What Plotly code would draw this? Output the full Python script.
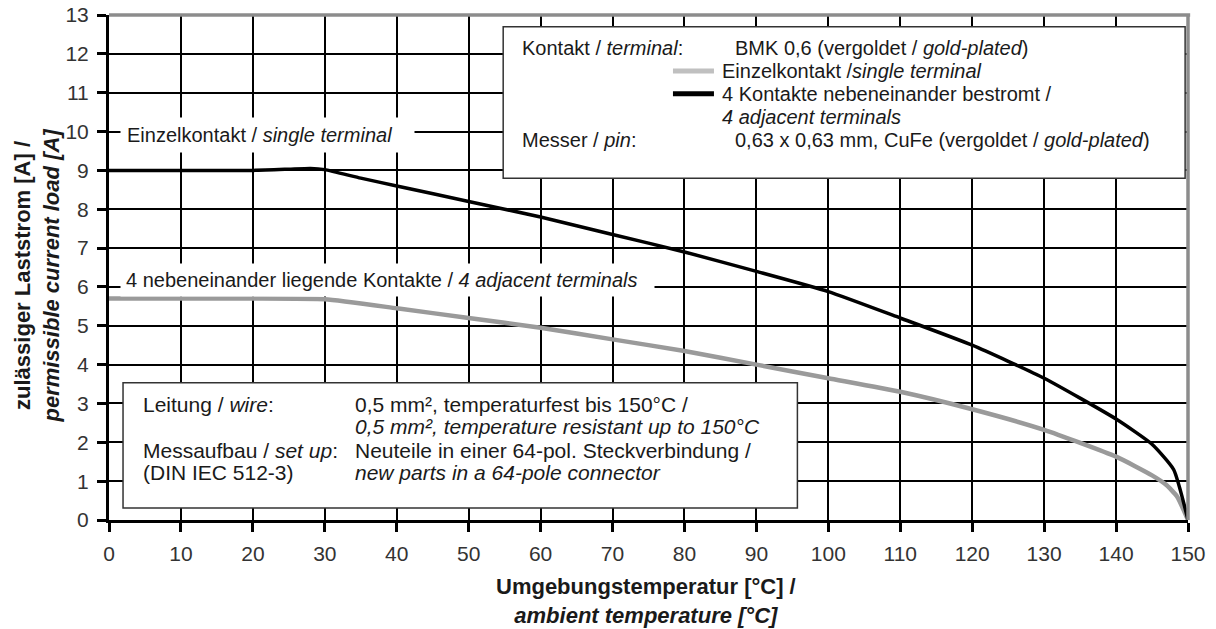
import plotly.graph_objects as go

# ---- data ----
temp_black = [0, 10, 20, 25, 28, 30, 35, 40, 50, 60, 70, 80, 90, 100, 110, 120, 130, 140, 145, 148, 150]
current_black = [9.0, 9.0, 9.0, 9.03, 9.05, 9.02, 8.8, 8.6, 8.2, 7.8, 7.35, 6.9, 6.4, 5.88, 5.2, 4.5, 3.65, 2.6, 1.95, 1.3, 0.0]

temp_gray = [0, 10, 20, 30, 40, 50, 60, 70, 80, 90, 100, 110, 120, 130, 140, 145, 147, 148.5, 150]
current_gray = [5.7, 5.7, 5.7, 5.68, 5.45, 5.2, 4.95, 4.65, 4.35, 4.0, 3.65, 3.3, 2.85, 2.32, 1.63, 1.15, 0.9, 0.6, 0.0]

x_ticks = list(range(0, 151, 10))
y_ticks = list(range(0, 14))

FONT = "Liberation Sans, Arial, sans-serif"
TXT = "#1a1a1a"

fig = go.Figure()
fig.add_trace(go.Scatter(x=temp_gray, y=current_gray, mode="lines",
                         line=dict(color="#9a9a9a", width=4.5, shape="spline", smoothing=0.5),
                         showlegend=False, hoverinfo="skip"))
fig.add_trace(go.Scatter(x=temp_black, y=current_black, mode="lines",
                         line=dict(color="#000000", width=3.5, shape="spline", smoothing=0.5),
                         showlegend=False, hoverinfo="skip"))

fig.update_xaxes(range=[0, 150], tickvals=x_ticks, showgrid=True, gridcolor="#000", gridwidth=1.5,
                 showline=True, linecolor="#000", linewidth=3, ticks="outside", ticklen=9,
                 tickwidth=2.5, tickcolor="#000", zeroline=False, automargin=False,
                 ticklabelstandoff=4, ticklabeloverflow="allow",
                 tickfont=dict(family=FONT, size=21, color="#333"))
fig.update_yaxes(range=[0, 13], tickvals=y_ticks, showgrid=True, gridcolor="#000", gridwidth=1.5,
                 showline=True, linecolor="#000", linewidth=3, ticks="outside", ticklen=9,
                 tickwidth=2.5, tickcolor="#000", zeroline=False, automargin=False,
                 ticklabelstandoff=4, ticklabeloverflow="allow",
                 tickfont=dict(family=FONT, size=21, color="#333"))

shapes = []
# top and right gray borders
shapes.append(dict(type="line", xref="paper", yref="paper", x0=0, x1=1.002, y0=1, y1=1,
                   line=dict(color="#8c8c8c", width=3.5), layer="above"))
shapes.append(dict(type="line", xref="paper", yref="paper", x0=1, x1=1, y0=0, y1=1,
                   line=dict(color="#8c8c8c", width=3.5), layer="above"))
# info box top-right
shapes.append(dict(type="rect", xref="x", yref="y", x0=54.8, x1=149.6, y0=8.8, y1=12.7,
                   fillcolor="white", line=dict(color="#333", width=1.5), layer="above"))
# info box bottom-left
shapes.append(dict(type="rect", xref="x", yref="y", x0=1.95, x1=95.7, y0=0.31, y1=3.53,
                   fillcolor="white", line=dict(color="#333", width=1.5), layer="above"))
# legend samples
shapes.append(dict(type="line", xref="x", yref="y", x0=78.4, x1=84.1, y0=11.56, y1=11.56,
                   line=dict(color="#c0c0c0", width=5), layer="above"))
shapes.append(dict(type="line", xref="x", yref="y", x0=78.4, x1=84.1, y0=10.97, y1=10.97,
                   line=dict(color="#000", width=5), layer="above"))
fig.update_layout(shapes=shapes)

ann = []
def txt(x, y, s, size=20, xanchor="left", **kw):
    ann.append(dict(x=x, y=y, xref="x", yref="y", text=s, showarrow=False, xanchor=xanchor,
                    yanchor="middle", font=dict(family=FONT, size=size, color=TXT), **kw))

NB = "&nbsp;"
# curve labels with white background
txt(1.5, 9.9, "Einzelkontakt / <i>single terminal</i>" + NB * 3, size=20, bgcolor="white", borderpad=6)
txt(1.5, 6.18, "4 nebeneinander liegende Kontakte / <i>4 adjacent terminals</i>" + NB * 2, size=20,
    bgcolor="white", borderpad=5)

# top-right box text
txt(57.1, 12.15, "Kontakt / <i>terminal</i>:")
txt(86.75, 12.15, "BMK 0,6 (vergoldet / <i>gold-plated</i>)")
txt(84.9, 11.56, "Einzelkontakt /<i>single terminal</i>")
txt(84.9, 10.97, "4 Kontakte nebeneinander bestromt /")
txt(84.9, 10.38, "<i>4 adjacent terminals</i>")
txt(57.1, 9.77, "Messer / <i>pin</i>:")
txt(86.75, 9.77, "0,63 x 0,63 mm, CuFe (vergoldet / <i>gold-plated</i>)")

# bottom-left box text
BS = 21
txt(4.4, 2.98, "Leitung / <i>wire</i>:", size=BS)
txt(33.9, 2.98, "0,5 mm², temperaturfest bis 150°C /", size=BS)
txt(33.9, 2.4, "<i>0,5 mm², temperature resistant up to 150°C</i>", size=BS)
txt(4.4, 1.8, "Messaufbau / <i>set up</i>:", size=BS)
txt(33.9, 1.8, "Neuteile in einer 64-pol. Steckverbindung /", size=BS)
txt(4.4, 1.22, "(DIN IEC 512-3)", size=BS)
txt(33.9, 1.22, "<i>new parts in a 64-pole connector</i>", size=BS)

# axis titles
ann.append(dict(x=0.498, y=-0.16, xref="paper", yref="paper", showarrow=False,
                text="<b>Umgebungstemperatur [°C] /</b><br><b><i>ambient temperature [°C]</i></b>",
                xanchor="center", yanchor="middle", align="center",
                font=dict(family=FONT, size=22, color=TXT)))
ann.append(dict(x=-0.0663, y=0.485, xref="paper", yref="paper", showarrow=False, textangle=-90,
                text="<b>zulässiger Laststrom [A] /</b><br><b><i>permissible current load [A]</i></b>",
                xanchor="center", yanchor="middle", align="center",
                font=dict(family=FONT, size=22, color=TXT)))
fig.update_layout(annotations=ann)

fig.update_layout(width=1216, height=629, margin=dict(l=109, r=28, t=15, b=109),
                  paper_bgcolor="white", plot_bgcolor="white", showlegend=False)

fig.write_html("out.html", config={"displayModeBar": False},
               post_script="document.body.style.margin='0px';")
